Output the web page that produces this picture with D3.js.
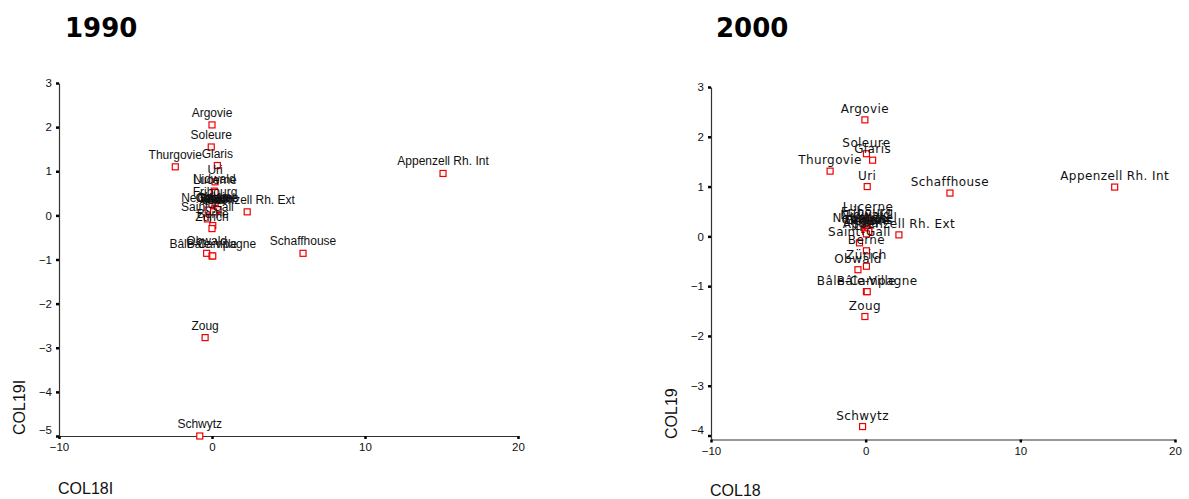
<!DOCTYPE html>
<html>
<head>
<meta charset="utf-8">
<script src="https://cdn.jsdelivr.net/npm/d3@7"></script>
<style>
  body { margin: 0; background: #fff; }
  svg { display: block; }
</style>
</head>
<body>
<script>
// 1990
let cantons1990 = ['Argovie', 'Soleure', 'Glaris', 'Thurgovie', 'Uri', 'Nidwald', 'Lucerne', 'Fribourg',
  'Neuchâtel', 'Vaud', 'Valais', 'Genève', 'Tessin', 'Grisons', 'Jura', 'Appenzell Rh. Ext', 'Saint-Gall',
  'Berne', 'Zurich', 'Obwald', 'Bâle-Ville', 'Bâle-Campagne', 'Schaffhouse', 'Appenzell Rh. Int', 'Zoug', 'Schwytz'];
let col18_1990 = [0.0, -0.05, 0.35, -2.4, 0.2, 0.15, 0.2, 0.2,
  -0.25, 0.1, 0.2, 0.3, 0.2, 0.4, 0.1, 2.3, -0.3,
  0.05, 0.0, -0.35, 0.0, 0.05, 5.95, 15.1, -0.45, -0.8];
let col19_1990 = [2.05, 1.55, 1.13, 1.1, 0.76, 0.55, 0.52, 0.25,
  0.12, 0.1, 0.15, 0.12, 0.1, 0.13, 0.08, 0.08, -0.08,
  -0.23, -0.3, -0.86, -0.92, -0.92, -0.86, 0.95, -2.77, -5.0];

// 2000
let cantons2000 = ['Argovie', 'Soleure', 'Glaris', 'Thurgovie', 'Uri', 'Schaffhouse', 'Appenzell Rh. Int',
  'Appenzell Rh. Ext', 'Lucerne', 'Fribourg', 'Nidwald', 'Neuchâtel', 'Vaud', 'Valais', 'Genève', 'Tessin',
  'Grisons', 'Jura', 'Saint-Gall', 'Berne', 'Zürich', 'Obwald', 'Bâle-Ville', 'Bâle-Campagne', 'Zoug', 'Schwytz'];
let col18_2000 = [-0.05, 0.05, 0.45, -2.3, 0.1, 5.45, 16.1,
  2.15, 0.15, 0.1, 0.0, -0.05, 0.1, 0.2, 0.0, 0.1,
  0.2, 0.05, -0.4, 0.05, 0.05, -0.5, 0.05, 0.1, -0.05, -0.2];
let col19_2000 = [2.34, 1.66, 1.53, 1.31, 1.0, 0.87, 0.99,
  0.03, 0.37, 0.27, 0.2, 0.15, 0.15, 0.13, 0.1, 0.08,
  0.1, 0.05, -0.13, -0.29, -0.6, -0.67, -1.11, -1.11, -1.61, -3.82];

let xTicks = [-10, 0, 10, 20];
let yTicks1990 = [3, 2, 1, 0, -1, -2, -3, -4, -5];
let yTicks2000 = [3, 2, 1, 0, -1, -2, -3, -4];

let svg = d3.select('body').append('svg')
  .attr('width', 1189)
  .attr('height', 499);

function panel(opt) {
  let x = d3.scaleLinear().domain([-10, 20]).range([opt.left, opt.right]);
  let y = d3.scaleLinear().domain(opt.yDomain).range([opt.bottom, opt.top]);
  let g = svg.append('g');

  // titre
  g.append('text')
    .attr('x', opt.titleX).attr('y', 37)
    .style('font-family', 'DejaVu Sans, Verdana, sans-serif')
    .style('font-weight', 'bold')
    .style('font-size', '26px')
    .text(opt.title);

  let ax = g.append('g')
    .attr('transform', `translate(0,${opt.bottom})`)
    .call(d3.axisBottom(x).tickValues(xTicks).tickFormat(d3.format('d'))
      .tickSize(3).tickSizeOuter(0).tickPadding(4));
  let ay = g.append('g')
    .attr('transform', `translate(${opt.left},0)`)
    .call(d3.axisLeft(y).tickValues(opt.yTicks).tickFormat(d3.format('d'))
      .tickSize(3).tickSizeOuter(0).tickPadding(4));

  [ax, ay].forEach(a => {
    a.select('.domain').attr('stroke', '#333').attr('stroke-width', 1.2);
    a.selectAll('.tick line').attr('stroke', '#000').attr('stroke-width', 2.5);
    a.selectAll('.tick text')
      .attr('fill', '#111')
      .style('font-family', 'Liberation Sans, Arial, sans-serif')
      .style('font-size', '11.5px');
  });
  // la dernière étiquette remonte un peu, comme dans SPSS
  ay.selectAll('.tick text').filter(d => d === opt.yTicks[opt.yTicks.length - 1])
    .attr('dy', '-0.2em');

  // titres des axes
  g.append('text')
    .attr('x', opt.left - 1).attr('y', opt.xTitleY)
    .style('font-family', 'Liberation Sans, Arial, sans-serif')
    .style('font-size', '16px')
    .attr('fill', '#111')
    .text(opt.xTitle);
  g.append('text')
    .attr('transform', `translate(${opt.yTitleX},${opt.yTitleY}) rotate(-90)`)
    .style('font-family', 'Liberation Sans, Arial, sans-serif')
    .style('font-size', '16px')
    .attr('fill', '#111')
    .text(opt.yTitle);

  let data = opt.names.map((n, i) => ({ name: n, x: opt.xs[i], y: opt.ys[i] }));

  g.selectAll('rect.pt').data(data).enter().append('rect')
    .attr('class', 'pt')
    .attr('x', d => x(d.x) - 3)
    .attr('y', d => y(d.y) - 3)
    .attr('width', 6).attr('height', 6)
    .attr('fill', '#fff')
    .attr('stroke', '#e00')
    .attr('stroke-width', 1.2);

  g.selectAll('text.lbl').data(data).enter().append('text')
    .attr('class', 'lbl')
    .attr('x', d => x(d.x))
    .attr('y', d => y(d.y) - opt.labelOffset)
    .attr('text-anchor', 'middle')
    .attr('fill', '#111')
    .style('font-family', opt.labelFont)
    .style('font-size', opt.labelSize)
    .style('letter-spacing', opt.labelSpacing)
    .text(d => d.name);
}

panel({
  title: '1990', titleX: 65,
  left: 59, right: 518, top: 83, bottom: 436,
  yDomain: [-5, 3], yTicks: yTicks1990,
  xTitle: 'COL18I', xTitleY: 494, yTitle: 'COL19I', yTitleX: 25, yTitleY: 435,
  names: cantons1990, xs: col18_1990, ys: col19_1990,
  labelFont: 'Liberation Sans, Arial, sans-serif', labelSize: '12px', labelSpacing: '0px', labelOffset: 8
});

panel({
  title: '2000', titleX: 716,
  left: 711, right: 1175, top: 87, bottom: 439.5,
  yDomain: [-4.08, 3], yTicks: yTicks2000,
  xTitle: 'COL18', xTitleY: 496, yTitle: 'COL19', yTitleX: 677, yTitleY: 439,
  names: cantons2000, xs: col18_2000, ys: col19_2000,
  labelFont: 'DejaVu Sans, Verdana, sans-serif', labelSize: '12px', labelSpacing: '0.4px', labelOffset: 7
});
</script>
</body>
</html>
